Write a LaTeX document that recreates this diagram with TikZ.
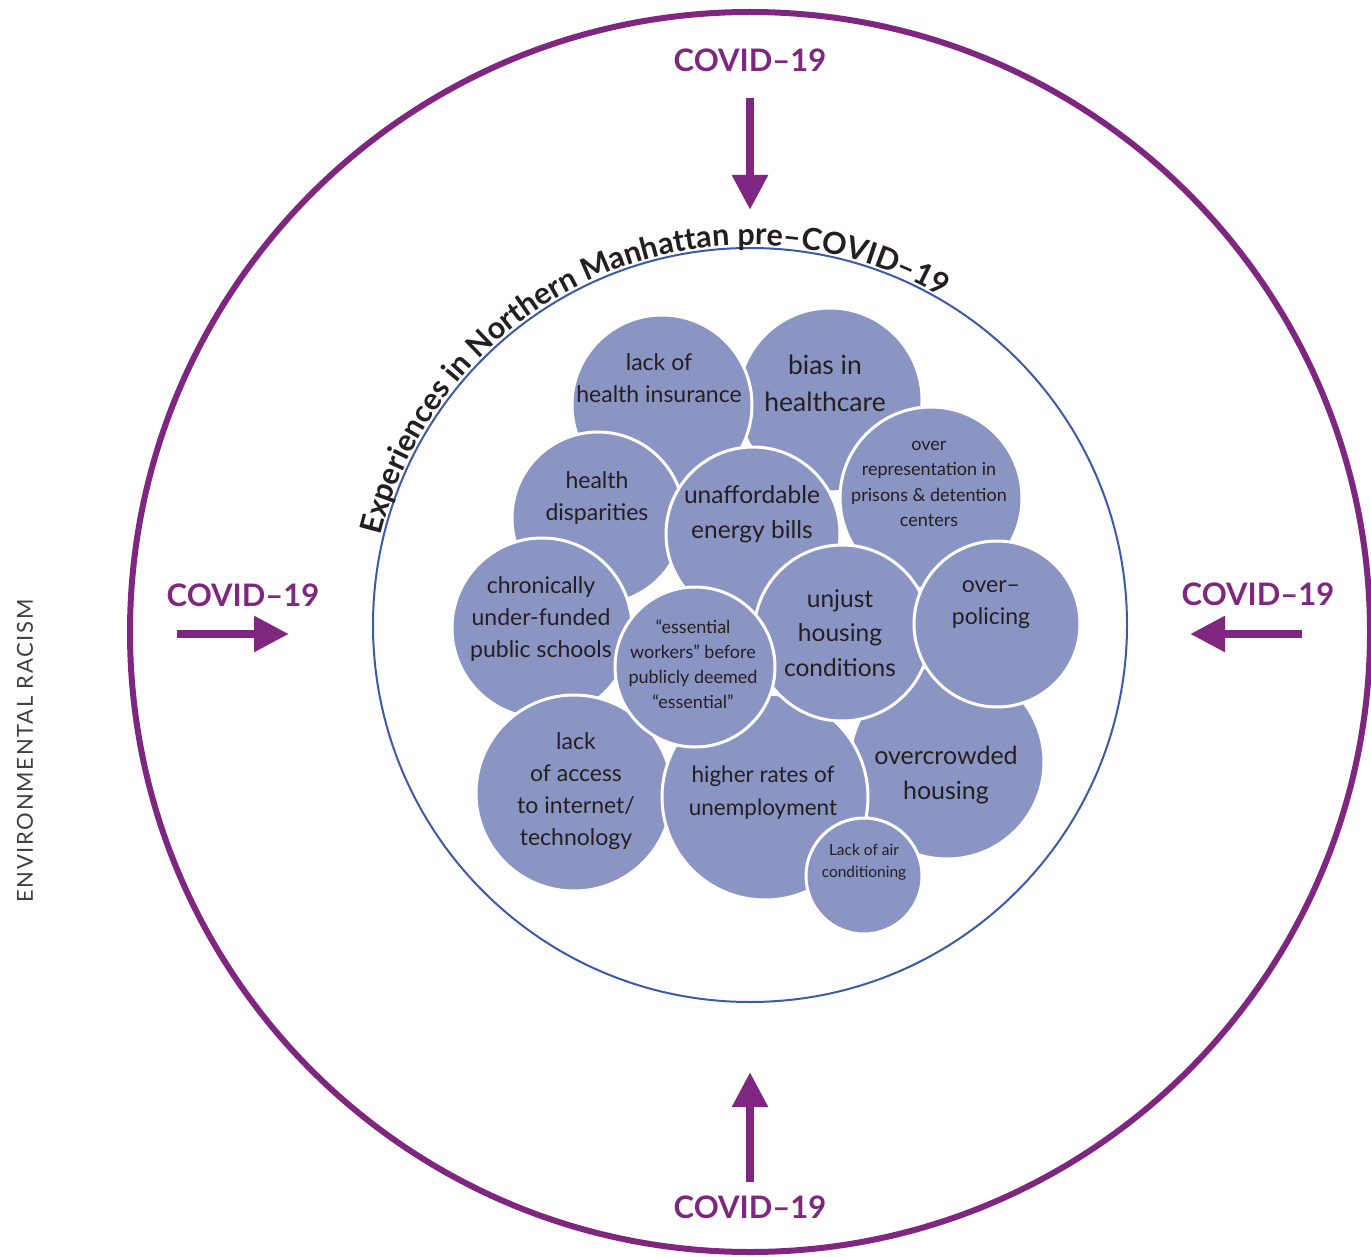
\documentclass[tikz,border=0pt]{standalone}
\usepackage{fontspec}
\setmainfont{Lato}
\usetikzlibrary{arrows.meta,decorations.text}
\definecolor{purp}{HTML}{7F2780}
\definecolor{ring}{HTML}{3B5BA8}
\definecolor{bub}{HTML}{8A95C4}
\definecolor{ink}{HTML}{231F20}
\definecolor{envgray}{HTML}{404040}
\newcommand{\titlefnt}{\fontsize{30.5}{34}\selectfont\bfseries\color{ink}}
\begin{document}
\begin{tikzpicture}[x=1pt,y=-1pt,
  bubble/.style={circle, fill=bub, draw=white, line width=3pt, inner sep=0pt, minimum size=#1},
  btext/.style={align=center, text=ink, inner sep=0pt},
  covid/.style={text=purp, inner sep=0pt, font=\fontsize{31}{36}\selectfont\bfseries},
  bigarrow/.style={draw=purp, line width=8.5pt, -{Triangle[width=34pt,length=35pt]}}]
\useasboundingbox (0,0) rectangle (1371,1257);
\fill[white] (0,0) rectangle (1371,1257);

% rings
\draw[purp, line width=6pt] (750,632) circle[radius=620];
\draw[ring, line width=2pt] (750,625) circle[radius=377];

% curved title
\path[decorate, decoration={text along path, text align=center,
  text={|\titlefnt|Experiences in Northern Manhattan pre–COVID–19}}]
  (750,625) ++(-168:380) arc[start angle=-168, end angle=-58, radius=380];

% bubbles (back to front)
\node[bubble=184pt] (bias) at (830,400) {};
\node[bubble=180pt] (ins) at (662,405) {};
\node[bubble=172pt] (disp) at (598,518) {};
\node[bubble=174pt] (energy) at (753,534) {};
\node[bubble=182pt] (rep) at (931,498) {};
\node[bubble=180pt] (schools) at (542,628) {};
\node[bubble=196pt] (access) at (574,793) {};
\node[bubble=194pt] (crowd) at (947,762) {};
\node[bubble=206pt] (unemp) at (765,797) {};
\node[bubble=176pt] (unjust) at (842,633) {};
\node[bubble=166pt] (police) at (997,624) {};
\node[bubble=160pt] (essen) at (695,667) {};
\node[bubble=116pt] (air) at (864,876) {};

% bubble texts
\node[btext, font=\fontsize{23}{32}\selectfont] (tins) at (659,378) {lack of\\health insurance};
\node[btext, font=\fontsize{26.5}{37}\selectfont] (tbias) at (825,383) {bias in\\healthcare};
\node[btext, font=\fontsize{23}{32}\selectfont] (tdisp) at (597,498) {health\\disparities};
\node[btext, font=\fontsize{24.5}{35}\selectfont] (tenergy) at (752,514) {unaffordable\\energy bills};
\node[btext, font=\fontsize{18}{25.5}\selectfont] (trep) at (929,484) {over\\representation in\\prisons \& detention\\centers};
\node[btext, font=\fontsize{23}{32}\selectfont] (tschools) at (541,619) {chronically\\under-funded\\public schools};
\node[btext, font=\fontsize{18}{25}\selectfont] (tessen) at (693,664) {“essential\\workers” before\\publicly deemed\\“essential”};
\node[btext, font=\fontsize{24.5}{34.5}\selectfont] (tunjust) at (840,633) {unjust\\housing\\conditions};
\node[btext, font=\fontsize{23}{32}\selectfont] (tpolice) at (991,605) {over–\\policing};
\node[btext, font=\fontsize{25}{35}\selectfont] (tcrowd) at (946,775) {overcrowded\\housing};
\node[btext, font=\fontsize{23}{32}\selectfont] (taccess) at (576,791) {lack\\of access\\to internet/\\technology};
\node[btext, font=\fontsize{22.5}{33}\selectfont] (tunemp) at (763,793) {higher rates of\\unemployment};
\node[btext, font=\fontsize{15.5}{22}\selectfont] (tair) at (864,862) {Lack of air\\conditioning};

% side label
\node[rotate=90, text=envgray, inner sep=0pt,
  font=\fontsize{22}{26}\selectfont\addfontfeature{LetterSpace=7.5}] (env) at (25,751) {ENVIRONMENTAL RACISM};

% COVID labels
\node[covid] (ctop) at (750,60) {COVID–19};
\node[covid] (cbot) at (750,1207) {COVID–19};
\node[covid] (cleft) at (243,595) {COVID–19};
\node[covid] (cright) at (1258,594) {COVID–19};

% arrows
\coordinate (atop1) at (750,98);   \coordinate (atop2) at (750,210);
\coordinate (abot1) at (750,1182); \coordinate (abot2) at (750,1072);
\coordinate (alef1) at (177,634);  \coordinate (alef2) at (289,634);
\coordinate (arig1) at (1302,634); \coordinate (arig2) at (1190,634);
\draw[bigarrow] (atop1) -- (atop2);
\draw[bigarrow] (abot1) -- (abot2);
\draw[bigarrow] (alef1) -- (alef2);
\draw[bigarrow] (arig1) -- (arig2);
\end{tikzpicture}
\end{document}
